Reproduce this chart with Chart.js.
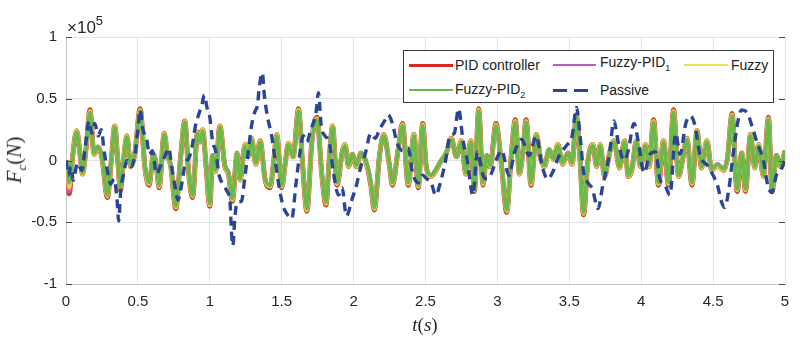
<!DOCTYPE html>
<html>
<head>
<meta charset="utf-8">
<script src="https://cdn.jsdelivr.net/npm/chart.js@4.4.1/dist/chart.umd.min.js"></script>
<style>
  body { margin: 0; background: #fff; }
  #wrap { position: relative; width: 800px; height: 341px; font-family: 'Liberation Sans', Arial, sans-serif; }
  #c { position: absolute; left: 0; top: 0; }
  .lbl { position: absolute; color: #262626; white-space: nowrap; }
  .serif { font-family: 'Liberation Serif', 'DejaVu Serif', serif; }
  #legend { position: absolute; left: 403px; top: 50px; width: 369px; height: 51px; border: 1px solid #3a3a3a; background: #fff; }
  .sw { position: absolute; height: 3px; }
  .lt { position: absolute; font-size: 14px; line-height: 16px; color: #222; white-space: nowrap; }
  .lt sub { font-size: 9px; vertical-align: -4px; line-height: 0; }
</style>
</head>
<body>
<div id="wrap">
  <canvas id="c" width="800" height="341"></canvas>

  <div class="lbl" style="left:67px;top:19px;font-size:17px;line-height:17px;">×10<span style="font-size:13px;position:relative;top:-8px;">5</span></div>
  <div class="lbl serif" style="left:16px;top:160px;font-size:21px;transform:translate(-50%,-50%) rotate(-90deg);"><i>F</i><sub style="font-size:13px;"><i>c</i></sub>(<i>N</i>)</div>
  <div class="lbl serif" style="left:425px;top:325px;font-size:19px;transform:translate(-50%,-50%);"><i>t</i>(<i>s</i>)</div>

  <div id="legend">
    <div class="sw" style="left:5px;top:13px;width:44px;background:#d42a22;"></div>
    <div class="lt" style="left:51px;top:6px;">PID controller</div>
    <div class="sw" style="left:149px;top:13px;width:43px;height:2px;background:#c15bc0;"></div>
    <div class="lt" style="left:196px;top:3px;">Fuzzy-PID<sub>1</sub></div>
    <div class="sw" style="left:280px;top:13px;width:44px;height:2px;background:#ece05a;"></div>
    <div class="lt" style="left:327px;top:6px;">Fuzzy</div>

    <div class="sw" style="left:5px;top:38px;width:44px;height:2px;background:#6cb84a;"></div>
    <div class="lt" style="left:51px;top:30px;">Fuzzy-PID<sub>2</sub></div>
    <div class="sw" style="left:149px;top:38px;width:14px;background:#2b4596;"></div>
    <div class="sw" style="left:170px;top:38px;width:14px;background:#2b4596;"></div>
    <div class="lt" style="left:196px;top:31px;">Passive</div>
  </div>
</div>

<script>
// values in units of 1e5 N (axis multiplier shown as x10^5)
const xTicks = [0, 0.5, 1, 1.5, 2, 2.5, 3, 3.5, 4, 4.5, 5];
const yTicks = [-1, -0.5, 0, 0.5, 1];

// time samples shared by the four controlled responses
const ctrlTime = [
  0.000, 0.012, 0.022, 0.045, 0.074, 0.095, 0.114, 0.140, 0.167, 0.195, 0.222, 0.250, 0.288, 0.315, 0.339, 0.360, 0.378, 0.400, 0.423, 0.450, 0.478, 0.516, 0.548, 0.578, 0.608, 0.630, 0.648, 0.683, 0.705, 0.729, 0.764, 0.795, 0.827, 0.850, 0.880, 0.915, 0.932, 0.950, 0.975,
  1.000, 1.020, 1.040, 1.070, 1.105, 1.130, 1.157, 1.190, 1.210, 1.245, 1.268, 1.290, 1.320, 1.350, 1.385, 1.420, 1.445, 1.466, 1.500, 1.525, 1.547, 1.580, 1.617, 1.645, 1.675, 1.710, 1.745, 1.780, 1.808, 1.830, 1.854, 1.885, 1.920, 1.940, 1.965,
  1.990, 2.020, 2.050, 2.090, 2.120, 2.144, 2.180, 2.210, 2.250, 2.270, 2.310, 2.340, 2.380, 2.420, 2.450, 2.480, 2.505, 2.540, 2.573, 2.610, 2.644, 2.680, 2.715, 2.750, 2.780, 2.815, 2.840, 2.870, 2.900, 2.925, 2.950,
  2.990, 3.030, 3.065, 3.095, 3.125, 3.153, 3.175, 3.200, 3.234, 3.270, 3.300, 3.327, 3.360, 3.390, 3.420, 3.455, 3.490, 3.520, 3.548, 3.575, 3.599, 3.630, 3.664, 3.690, 3.715, 3.745, 3.780, 3.810, 3.850, 3.884, 3.910, 3.935, 3.966,
  3.995, 4.030, 4.055, 4.086, 4.120, 4.155, 4.190, 4.225, 4.260, 4.290, 4.318, 4.353, 4.388, 4.420, 4.457, 4.490, 4.530, 4.574, 4.600, 4.632, 4.667, 4.700, 4.725, 4.760, 4.790, 4.817, 4.850, 4.885, 4.910, 4.940, 4.970, 5.000
];

const pidVals = [
  0.00, -0.06, -0.27, 0.02, 0.24, 0.08, -0.11, 0.10, 0.41, 0.05, 0.11, 0.02, -0.30, 0.00, 0.28, 0.00, -0.24, 0.00, 0.20, -0.05, 0.05, 0.42, -0.05, -0.20, 0.05, -0.06, -0.22, 0.22, 0.05, -0.05, -0.39, 0.00, 0.32, -0.06, -0.30, 0.23, 0.15, 0.25, -0.06,
  -0.37, 0.04, -0.09, 0.28, -0.05, -0.11, -0.33, 0.06, -0.16, 0.13, 0.03, 0.18, -0.03, 0.16, -0.16, -0.22, 0.00, 0.21, -0.22, -0.02, 0.14, 0.03, 0.42, -0.03, -0.41, 0.16, 0.35, -0.13, -0.36, 0.00, 0.28, -0.20, 0.06, 0.13, -0.05,
  0.05, -0.05, 0.06, -0.03, -0.20, -0.40, 0.04, 0.21, -0.05, -0.20, 0.09, 0.30, -0.20, 0.21, -0.22, 0.30, -0.05, -0.13, -0.08, 0.00, 0.06, 0.18, 0.03, 0.16, -0.11, 0.16, -0.25, 0.42, -0.20, 0.04, -0.05,
  0.30, -0.06, -0.42, 0.02, 0.33, -0.11, 0.05, 0.33, -0.20, 0.21, 0.02, -0.05, 0.09, 0.01, 0.13, -0.03, 0.06, -0.03, 0.37, 0.00, -0.44, 0.00, 0.13, -0.05, 0.13, -0.13, 0.06, 0.16, -0.06, 0.16, -0.13, -0.08, 0.16,
  -0.05, 0.13, -0.05, 0.33, -0.20, 0.16, -0.20, 0.41, -0.13, 0.02, 0.18, -0.20, 0.24, -0.06, 0.16, -0.08, -0.04, -0.08, 0.02, 0.38, -0.25, 0.06, -0.25, 0.21, -0.06, 0.13, -0.13, 0.35, -0.25, 0.04, -0.05, 0.08
];

const fuzzyPid1Vals = [
  0.00, -0.06, -0.25, 0.02, 0.23, 0.08, -0.10, 0.10, 0.40, 0.06, 0.11, 0.03, -0.29, 0.00, 0.27, 0.00, -0.23, 0.00, 0.19, -0.04, 0.05, 0.41, -0.04, -0.19, 0.05, -0.05, -0.21, 0.21, 0.05, -0.04, -0.38, 0.00, 0.31, -0.05, -0.29, 0.22, 0.15, 0.24, -0.05,
  -0.36, 0.04, -0.08, 0.27, -0.04, -0.10, -0.32, 0.06, -0.15, 0.12, 0.03, 0.17, -0.02, 0.15, -0.15, -0.21, 0.00, 0.20, -0.21, -0.02, 0.13, 0.03, 0.41, -0.02, -0.40, 0.15, 0.34, -0.12, -0.35, 0.00, 0.27, -0.19, 0.06, 0.12, -0.04,
  0.05, -0.04, 0.06, -0.02, -0.19, -0.39, 0.04, 0.20, -0.04, -0.19, 0.09, 0.29, -0.19, 0.20, -0.21, 0.29, -0.04, -0.12, -0.07, 0.00, 0.06, 0.17, 0.03, 0.15, -0.10, 0.15, -0.24, 0.41, -0.19, 0.04, -0.04,
  0.29, -0.05, -0.41, 0.02, 0.32, -0.10, 0.05, 0.32, -0.19, 0.20, 0.02, -0.04, 0.09, 0.01, 0.12, -0.02, 0.06, -0.02, 0.36, 0.00, -0.43, 0.00, 0.12, -0.04, 0.12, -0.12, 0.06, 0.15, -0.05, 0.15, -0.12, -0.07, 0.15,
  -0.04, 0.12, -0.04, 0.32, -0.19, 0.15, -0.19, 0.40, -0.12, 0.02, 0.17, -0.19, 0.23, -0.05, 0.15, -0.07, -0.03, -0.07, 0.02, 0.37, -0.24, 0.06, -0.24, 0.20, -0.05, 0.12, -0.12, 0.34, -0.24, 0.04, -0.04, 0.08
];

const fuzzyVals = [
  0.00, -0.05, -0.22, 0.02, 0.24, 0.08, -0.11, 0.10, 0.40, 0.05, 0.11, 0.02, -0.29, 0.00, 0.28, 0.00, -0.23, 0.00, 0.20, -0.05, 0.05, 0.41, -0.05, -0.19, 0.05, -0.06, -0.21, 0.22, 0.05, -0.05, -0.38, 0.00, 0.32, -0.06, -0.29, 0.23, 0.15, 0.25, -0.06,
  -0.36, 0.04, -0.09, 0.28, -0.05, -0.11, -0.32, 0.06, -0.16, 0.13, 0.03, 0.18, -0.03, 0.16, -0.16, -0.21, 0.00, 0.21, -0.21, -0.02, 0.14, 0.03, 0.41, -0.03, -0.40, 0.16, 0.34, -0.13, -0.35, 0.00, 0.28, -0.19, 0.06, 0.13, -0.05,
  0.05, -0.05, 0.06, -0.03, -0.19, -0.39, 0.04, 0.21, -0.05, -0.19, 0.09, 0.29, -0.19, 0.21, -0.21, 0.29, -0.05, -0.13, -0.08, 0.00, 0.06, 0.18, 0.03, 0.16, -0.11, 0.16, -0.24, 0.41, -0.19, 0.04, -0.05,
  0.29, -0.06, -0.41, 0.02, 0.32, -0.11, 0.05, 0.32, -0.19, 0.21, 0.02, -0.05, 0.09, 0.01, 0.13, -0.03, 0.06, -0.03, 0.36, 0.00, -0.43, 0.00, 0.13, -0.05, 0.13, -0.13, 0.06, 0.16, -0.06, 0.16, -0.13, -0.08, 0.16,
  -0.05, 0.13, -0.05, 0.32, -0.19, 0.16, -0.19, 0.40, -0.13, 0.02, 0.18, -0.19, 0.24, -0.06, 0.16, -0.08, -0.04, -0.08, 0.02, 0.37, -0.24, 0.06, -0.24, 0.21, -0.06, 0.13, -0.13, 0.34, -0.24, 0.04, -0.05, 0.08
];

const fuzzyPid2Vals = [
  0.00, -0.05, -0.18, 0.02, 0.23, 0.08, -0.10, 0.10, 0.39, 0.06, 0.11, 0.03, -0.28, 0.00, 0.27, 0.00, -0.22, 0.00, 0.19, -0.04, 0.05, 0.40, -0.04, -0.18, 0.05, -0.05, -0.20, 0.21, 0.05, -0.04, -0.37, 0.00, 0.31, -0.05, -0.28, 0.22, 0.15, 0.24, -0.05,
  -0.35, 0.04, -0.08, 0.27, -0.04, -0.10, -0.31, 0.06, -0.15, 0.12, 0.03, 0.17, -0.02, 0.15, -0.15, -0.20, 0.00, 0.20, -0.20, -0.02, 0.13, 0.03, 0.40, -0.02, -0.39, 0.15, 0.33, -0.12, -0.34, 0.00, 0.27, -0.18, 0.06, 0.12, -0.04,
  0.05, -0.04, 0.06, -0.02, -0.18, -0.38, 0.04, 0.20, -0.04, -0.18, 0.09, 0.28, -0.18, 0.20, -0.20, 0.28, -0.04, -0.12, -0.07, 0.00, 0.06, 0.17, 0.03, 0.15, -0.10, 0.15, -0.23, 0.40, -0.18, 0.04, -0.04,
  0.28, -0.05, -0.40, 0.02, 0.31, -0.10, 0.05, 0.31, -0.18, 0.20, 0.02, -0.04, 0.09, 0.01, 0.12, -0.02, 0.06, -0.02, 0.35, 0.00, -0.42, 0.00, 0.12, -0.04, 0.12, -0.12, 0.06, 0.15, -0.05, 0.15, -0.12, -0.07, 0.15,
  -0.04, 0.12, -0.04, 0.31, -0.18, 0.15, -0.18, 0.39, -0.12, 0.02, 0.17, -0.18, 0.23, -0.05, 0.15, -0.07, -0.03, -0.07, 0.02, 0.36, -0.23, 0.06, -0.23, 0.20, -0.05, 0.12, -0.12, 0.33, -0.23, 0.04, -0.04, 0.08
];

// passive suspension, own time samples
const passiveTime = [
  0.000, 0.015, 0.035, 0.050, 0.080, 0.110, 0.135, 0.160, 0.180, 0.200, 0.225, 0.245, 0.265, 0.290, 0.310, 0.335, 0.355, 0.366, 0.380, 0.400, 0.425, 0.455, 0.480, 0.500, 0.515, 0.535, 0.560, 0.580, 0.600, 0.630, 0.655, 0.690, 0.715, 0.735, 0.760, 0.778, 0.800, 0.830, 0.855, 0.875, 0.900, 0.922, 0.945, 0.962, 0.980,
  1.000, 1.020, 1.040, 1.065, 1.090, 1.120, 1.140, 1.152, 1.160, 1.175, 1.190, 1.220, 1.245, 1.265, 1.290, 1.315, 1.330, 1.345, 1.365, 1.380, 1.400, 1.430, 1.455, 1.480, 1.510, 1.535, 1.570, 1.600, 1.625, 1.650, 1.675, 1.700, 1.740, 1.755, 1.775, 1.800, 1.830, 1.860, 1.895, 1.920, 1.950, 1.990,
  2.020, 2.050, 2.080, 2.120, 2.150, 2.180, 2.220, 2.240, 2.270, 2.300, 2.340, 2.380, 2.410, 2.450, 2.480, 2.510, 2.540, 2.570, 2.610, 2.640, 2.670, 2.700, 2.730, 2.760, 2.790, 2.830, 2.860, 2.900, 2.930, 2.960,
  2.990, 3.030, 3.080, 3.120, 3.170, 3.220, 3.270, 3.310, 3.350, 3.390, 3.430, 3.480, 3.520, 3.550, 3.575, 3.600, 3.630, 3.660, 3.700, 3.730, 3.780, 3.810, 3.840, 3.880, 3.910, 3.950, 3.980,
  4.020, 4.060, 4.100, 4.130, 4.165, 4.200, 4.240, 4.270, 4.310, 4.340, 4.370, 4.410, 4.460, 4.500, 4.530, 4.560, 4.580, 4.610, 4.640, 4.680, 4.700, 4.740, 4.770, 4.810, 4.850, 4.880, 4.910, 4.940, 4.970, 5.000
];
const passiveVals = [
  0.00, -0.12, -0.05, -0.16, -0.02, -0.08, 0.12, 0.32, 0.22, 0.30, 0.20, 0.25, 0.08, -0.10, -0.19, -0.15, -0.32, -0.49, -0.25, -0.11, 0.00, -0.05, 0.05, 0.25, 0.41, 0.25, 0.18, 0.05, 0.08, -0.11, -0.05, 0.04, 0.10, -0.05, -0.22, -0.32, -0.22, -0.02, 0.02, 0.10, 0.28, 0.37, 0.45, 0.53, 0.43,
  0.35, 0.15, 0.08, -0.12, -0.19, -0.25, -0.33, -0.60, -0.69, -0.45, -0.34, -0.33, -0.12, 0.05, 0.28, 0.40, 0.44, 0.60, 0.71, 0.52, 0.36, 0.20, 0.00, -0.20, -0.37, -0.43, -0.47, -0.18, 0.05, 0.20, 0.15, 0.24, 0.40, 0.55, 0.28, 0.20, 0.15, -0.10, -0.28, -0.22, -0.45, -0.31,
  -0.20, -0.05, 0.05, 0.22, 0.18, 0.25, 0.33, 0.37, 0.30, 0.15, 0.08, 0.10, -0.10, -0.18, -0.12, -0.15, -0.18, -0.28, -0.15, 0.00, 0.20, 0.22, 0.42, 0.17, 0.00, -0.28, 0.07, -0.12, -0.15, -0.10,
  0.00, 0.08, -0.12, 0.07, 0.17, 0.04, 0.20, -0.04, -0.15, -0.08, 0.04, 0.12, 0.20, 0.43, 0.20, -0.10, -0.18, -0.23, -0.39, -0.22, 0.06, 0.32, 0.15, 0.00, 0.08, 0.30, 0.15,
  -0.10, 0.05, 0.07, -0.15, -0.20, -0.28, 0.22, 0.05, 0.30, 0.36, 0.30, 0.04, -0.04, -0.12, -0.20, -0.34, -0.38, -0.23, 0.06, 0.36, 0.41, 0.38, 0.28, 0.13, 0.00, -0.20, -0.26, -0.12, -0.08, 0.00
];

function pts(ts, vs) {
  return ts.map((t, i) => ({ x: t, y: vs[i] }));
}

function line(label, ts, vs, color, width, order, dash) {
  return {
    label, data: pts(ts, vs), borderColor: color, borderWidth: width, order,
    borderDash: dash || [], pointRadius: 0, fill: false, cubicInterpolationMode: 'monotone'
  };
}

// MATLAB style inner tick marks on left and right axes
const innerTicks = {
  id: 'innerTicks',
  afterDraw(chart) {
    const { ctx, chartArea: a, scales: { y } } = chart;
    ctx.save();
    ctx.strokeStyle = '#4a4a4a';
    ctx.lineWidth = 1;
    yTicks.forEach(v => {
      const py = Math.round(y.getPixelForValue(v)) + 0.5;
      ctx.beginPath();
      ctx.moveTo(a.left, py); ctx.lineTo(a.left + 6, py);
      ctx.moveTo(a.right - 6, py); ctx.lineTo(a.right, py);
      ctx.stroke();
    });
    ctx.restore();
  }
};

const tickFont = { family: "'Liberation Sans', Arial, sans-serif", size: 15 };
const gridCol = '#e4e4e4';
const axisCol = '#c6c6c6';

new Chart(document.getElementById('c'), {
  type: 'line',
  data: {
    datasets: [
      line('Passive', passiveTime, passiveVals, '#2b4596', 3.4, 1, [9, 6]),
      line('Fuzzy-PID2', ctrlTime, fuzzyPid2Vals, '#6cb84a', 3.6, 2),
      line('Fuzzy', ctrlTime, fuzzyVals, '#e6cf45', 4.2, 3),
      line('Fuzzy-PID1', ctrlTime, fuzzyPid1Vals, '#c15bc0', 4.2, 4),
      line('PID controller', ctrlTime, pidVals, '#c8471f', 5, 5)
    ]
  },
  options: {
    responsive: false,
    animation: false,
    devicePixelRatio: 1,
    layout: { padding: { top: 37, right: 15, left: 0, bottom: 0 } },
    plugins: { legend: { display: false }, tooltip: { enabled: false } },
    scales: {
      x: {
        type: 'linear', min: 0, max: 5,
        afterBuildTicks: s => { s.ticks = xTicks.map(v => ({ value: v })); },
        afterFit: s => { s.height = 57; },
        ticks: { font: tickFont, color: '#262626', padding: 9, maxRotation: 0, callback: v => String(v) },
        grid: { color: gridCol, drawTicks: false },
        border: { color: axisCol }
      },
      y: {
        min: -1, max: 1,
        afterBuildTicks: s => { s.ticks = yTicks.map(v => ({ value: v })); },
        afterFit: s => { s.width = 66; },
        ticks: { font: tickFont, color: '#262626', padding: 9, callback: v => String(v) },
        grid: { color: gridCol, drawTicks: false },
        border: { color: axisCol }
      }
    }
  },
  plugins: [innerTicks]
});
</script>
</body>
</html>
